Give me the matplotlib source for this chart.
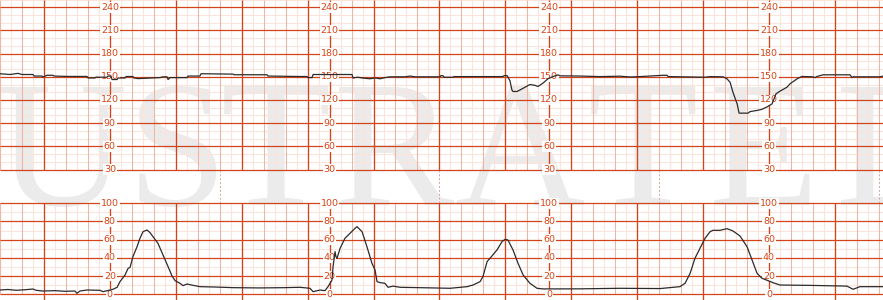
import numpy as np
import matplotlib.pyplot as plt
import matplotlib.transforms as mtransforms

# fetal heart rate trace (time in s, bpm)
fhr_t = [0.0, 4.6, 8.2, 10.0, 15.0, 15.5, 19.1, 19.6, 20.5, 21.4, 24.1, 24.6, 30.5,
         39.6, 40.1, 43.2, 43.7, 48.7, 49.2, 50.5, 51.0, 53.3, 53.7, 56.9, 57.4, 60.5,
         61.0, 62.8, 72.8, 74.2, 76.0, 76.5, 77.4, 85.1, 85.6, 91.0, 91.5, 106.1, 106.5,
         121.5, 122.0, 136.5, 139.7, 140.2, 142.0, 142.5, 160.2, 160.7, 162.9, 164.8,
         168.4, 170.7, 173.0, 175.2, 177.5, 184.3, 186.6, 188.9, 200.3, 200.7, 201.6,
         202.1, 206.2, 206.6, 228.9, 229.4, 230.8, 232.1, 233.0, 233.5, 235.3, 236.7,
         239.0, 241.2, 243.5, 244.9, 247.2, 249.4, 251.7, 254.0, 254.9, 264.0, 273.1,
         282.2, 286.8, 291.3, 301.8, 303.6, 304.1, 320.9, 323.2, 329.1, 330.9, 332.3,
         333.6, 335.5, 336.4, 340.5, 341.4, 344.6, 346.8, 349.1, 351.4, 353.2, 355.0,
         358.2, 359.6, 362.8, 365.0, 370.0, 371.0, 371.9, 374.6, 386.9, 387.8, 388.3,
         400.5, 401.9]
fhr_bpm = [154, 153, 154.5, 153, 153, 151, 151, 149.5, 151, 152, 152, 151, 150.5,
           150.5, 148.5, 148.5, 149.5, 149.5, 151, 151, 146.5, 146.5, 148.5, 148.5, 150.4, 150.4,
           148.5, 147.7, 149, 150, 150, 146.5, 149, 149, 151, 151, 154, 153.5, 152.7,
           152.7, 151, 150.4, 150.4, 149, 149, 153, 153, 148.5, 149.5, 148.5,
           147.5, 148.5, 147.5, 149, 150, 150, 151, 150, 150, 151.5, 151.5,
           149.5, 149.5, 150.3, 150.3, 151.5, 151.5, 145, 133, 131, 131, 133,
           136.6, 140, 139, 137.5, 142, 147.5, 150.4, 152.5, 151.3, 151, 150.3,
           150.8, 149.8, 150.3, 152, 152, 150.3, 149.5, 150.3, 150, 147.4, 143,
           130, 115, 103, 103, 105, 106.5, 108, 111, 115, 128, 131.4,
           136.6, 141, 147.4, 150.5, 150, 149, 150.5, 152.6, 152.6, 149, 150,
           150, 151]

# uterine contraction trace (time in s, units)
uc_t = [0.0, 3.6, 7.3, 11.4, 15.0, 16.4, 19.6, 25.0, 29.6, 34.1, 35.0, 36.4, 39.6,
        45.5, 46.9, 50.1, 51.4, 53.3, 54.6, 56.9, 58.3, 59.2, 60.5, 62.4, 63.7, 65.1,
        66.9, 68.3, 69.6, 71.9, 74.2, 76.5, 78.3, 79.7, 81.9, 83.3, 85.1, 87.8, 91.0,
        97.9, 106.1, 118.3, 129.7, 136.5, 141.1, 142.5, 145.7, 147.9, 149.3, 151.1,
        151.6, 152.5, 152.9, 153.4, 154.8, 157.0, 159.3, 161.6, 162.5, 164.8, 167.0,
        169.3, 170.7, 171.6, 173.0, 175.2, 176.6, 178.9, 182.1, 197.1, 204.8, 212.6,
        215.3, 218.5, 219.8, 221.7, 223.9, 226.2, 228.5, 229.9, 231.2, 233.5, 235.8,
        238.1, 241.2, 244.4, 247.2, 264.0, 282.2, 300.4, 309.5, 311.8, 314.1, 316.3,
        318.6, 320.9, 323.2, 324.5, 327.7, 330.9, 333.6, 336.8, 340.0, 342.3, 344.6,
        346.8, 349.6, 351.8, 355.0, 368.7, 385.5, 388.3, 391.4, 401.9]
uc_val = [4.7, 5.3, 4.4, 5.0, 5.8, 4.4, 3.6, 4.0, 3.3, 3.6, 1.1, 3.6, 4.7,
          4.4, 2.9, 4.7, 5.5, 7.7, 13.9, 21.2, 28.5, 29.6, 41.4, 52.4, 61.5, 68.8,
          70.7, 67.7, 63.4, 56, 43.2, 30.4, 20.1, 15, 12.1, 9.5, 11.3, 9.9, 8.4,
          8.0, 7.3, 7.0, 7.3, 7.7, 6.6, 2.9, 4.7, 4.0, 8.4, 15.7,
          30.4, 46.9, 41.4, 39.5, 50.5, 61.5, 67, 72.5, 74.3, 68.8, 52.4,
          34, 26.7, 13.9, 12.8, 12.1, 7.7, 9.0, 7.7, 7.0, 6.6, 8.4,
          10.2, 13.9, 19.4, 35.9, 42.1, 48.7, 57.9, 60.4, 59.7, 48.7, 34,
          21.2, 12.1, 6.6, 5.9, 6.0, 6.6, 6.3, 8.4, 12.1, 23, 39.5,
          50.5, 61.5, 68.8, 70.3, 70.3, 72.1, 69.6, 64.1, 52.4, 37.7, 23,
          17.6, 15, 12.8, 10.2, 9.8, 9.0, 5.5, 8.4, 8.4]

fhr_labels = [30, 60, 90, 120, 150, 180, 210, 240]
uc_labels = [0, 20, 40, 60, 80, 100]
label_times = [50, 150, 250, 350]
page_marks = [100, 200, 300, 400]

T_MAX = 401.9
FINE = '#fce4db'
MID = '#efb5a4'
MAJOR = '#d4441b'
TXT = '#d84315'
TRACE = '#2b2b2b'

fig = plt.figure(figsize=(8.83, 3.0), dpi=100)
fig.patch.set_facecolor('white')

# watermark underneath the paper grid, letters placed one by one (pixels from left)
ax_wm = fig.add_axes([0, 0, 1, 1], zorder=0)
ax_wm.axis('off')
wm_letters = ['U', 'S', 'T', 'R', 'A', 'T', 'E', 'D']
wm_left = [-4, 127, 221, 334, 454, 588, 709, 836]
for ch, xl in zip(wm_letters, wm_left):
    ax_wm.text(xl / 883, 95 / 300, ch, transform=ax_wm.transAxes,
               fontsize=130, family='Liberation Serif', color='#ebebeb',
               ha='left', va='baseline')

ax_fhr = fig.add_axes([0, 127 / 300, 1, 173 / 300], zorder=1)
ax_uc = fig.add_axes([0, 0, 1, 100 / 300], zorder=1)


def paper(ax, lo, hi, top, bottom, step, major):
    ax.set_facecolor('none')
    ax.set_xlim(0, T_MAX)
    ax.set_ylim(bottom, top)
    ax.axis('off')
    secs = np.arange(0, 405, 5)
    fine = [s for s in secs if s % 10 != 0]
    mid = [s for s in secs if s % 10 == 0 and (s - 20) % 30 != 0 and s not in label_times]
    maj = [s for s in secs if ((s - 20) % 30 == 0) or s in label_times]
    ax.vlines(fine, lo, hi, colors=FINE, lw=0.75, zorder=1)
    ax.vlines(mid, lo, hi, colors=MID, lw=0.75, zorder=1.2)
    rows = np.arange(lo, hi + 1, step)
    ax.hlines([r for r in rows if (r - lo) % major != 0], 0, T_MAX, colors=FINE, lw=0.75, zorder=1.1)
    ax.hlines([r for r in rows if (r - lo) % major == 0], 0, T_MAX, colors=MAJOR, lw=0.9, zorder=1.5)
    return maj


maj = paper(ax_fhr, 30, 250, 249.45, 25.5, 10, 30)
ax_fhr.vlines(maj, 30, 250, colors=MAJOR, lw=0.95, zorder=1.5)
maj = paper(ax_uc, 0, 100, 103.6, -6.26, 10, 20)
ax_uc.vlines(maj, -6.26, 100, colors=MAJOR, lw=0.95, zorder=1.5)

for t in label_times:
    for v in fhr_labels:
        ax_fhr.text(t, v, str(v), ha='center', va='center', fontsize=6.8, color=TXT,
                    zorder=3, bbox=dict(facecolor='white', edgecolor='none', pad=0.6))
    for v in uc_labels:
        ax_uc.text(t, v, str(v), ha='center', va='center', fontsize=6.8, color=TXT,
                   zorder=3, bbox=dict(facecolor='white', edgecolor='none', pad=0.6))

# dashed page markers in the gap between the two strips
blend = mtransforms.blended_transform_factory(ax_fhr.transData, fig.transFigure)
for t in page_marks:
    ax_fhr.plot([t, t], [96.7 / 300, 130.5 / 300], transform=blend, clip_on=False,
                color='#d2a698', lw=0.7, dashes=(2, 2), zorder=1)

ax_fhr.plot(fhr_t, fhr_bpm, color=TRACE, lw=0.9, zorder=4)
ax_uc.plot(uc_t, uc_val, color=TRACE, lw=0.9, zorder=4)

fig.savefig('out.png', dpi=100)
